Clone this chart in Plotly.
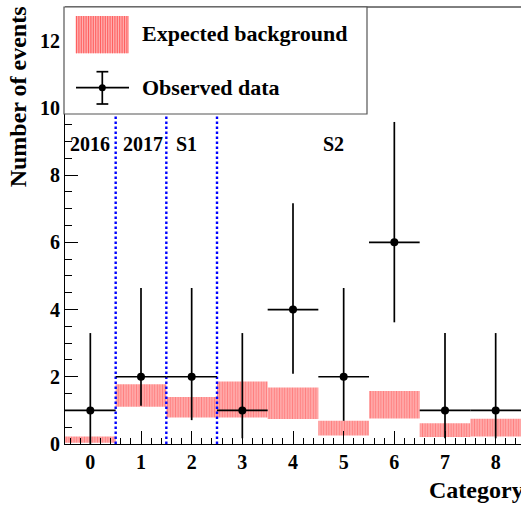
import plotly.graph_objects as go

# ---- data ----
categories = [0, 1, 2, 3, 4, 5, 6, 7, 8]
bkg_low = [0.04, 1.11, 0.79, 0.79, 0.74, 0.25, 0.76, 0.21, 0.22]
bkg_high = [0.22, 1.78, 1.40, 1.86, 1.68, 0.69, 1.58, 0.62, 0.75]
observed = [1, 2, 2, 1, 4, 2, 6, 1, 1]
err_up = [2.30, 2.64, 2.64, 2.30, 3.16, 2.64, 3.58, 2.30, 2.30]
err_down = [1.00, 0.86, 1.29, 0.83, 1.91, 1.31, 2.38, 0.83, 0.83]
boundaries = [0.5, 1.5, 2.5]
region_labels = ["2016", "2017", "S1", "S2"]
y_tick_vals = [0, 2, 4, 6, 8, 10, 12]
x_tick_vals = categories

FONT = "Liberation Serif"

fig = go.Figure()

# expected background bands
fig.add_trace(go.Bar(
    x=categories,
    base=bkg_low,
    y=[h - l for h, l in zip(bkg_high, bkg_low)],
    width=1.0,
    marker=dict(
        color="#ffb0b0",
        line=dict(width=0),
        pattern=dict(shape="|", fgcolor="#ff5050", bgcolor="#ffb0b0",
                     size=2.6, solidity=0.45, fillmode="overlay"),
    ),
    showlegend=False,
    hoverinfo="skip",
))

# region boundaries
for b in boundaries:
    fig.add_trace(go.Scatter(
        x=[b, b], y=[0, 13], mode="lines",
        line=dict(color="#0000ff", width=2.4, dash="2.5px,2.5px"),
        showlegend=False, hoverinfo="skip",
    ))

# observed data
fig.add_trace(go.Scatter(
    x=categories, y=observed, mode="markers",
    marker=dict(color="black", size=8),
    error_y=dict(type="data", symmetric=False, array=err_up, arrayminus=err_down,
                 color="black", thickness=1.7, width=0),
    error_x=dict(type="constant", value=0.5, color="black", thickness=1.7, width=0),
    showlegend=False,
))

annotations = []
# region labels
label_pos = [0.0, 1.03, 1.9, 4.8]
for txt, xp in zip(region_labels, label_pos):
    annotations.append(dict(x=xp, y=8.91, xref="x", yref="y", text=txt, showarrow=False,
                            font=dict(family=FONT, size=20, color="black", weight="bold"),
                            xanchor="center", yanchor="middle"))

# axis titles
annotations.append(dict(x=-0.103, y=1.005, xref="paper", yref="paper", text="Number of events",
                        showarrow=False, textangle=-90, xanchor="center", yanchor="top",
                        font=dict(family=FONT, size=24, color="black", weight="bold")))
annotations.append(dict(x=1.012, y=-0.105, xref="paper", yref="paper", text="Category",
                        showarrow=False, xanchor="right", yanchor="middle",
                        font=dict(family=FONT, size=24, color="black", weight="bold")))

# ---- manual legend ----
W, H = 456.0, 437.0
def px(xp):
    return (xp - 65.0) / W
def py(yp):
    return (444.0 - yp) / H

shapes = []
# top frame line
shapes.append(dict(type="line", xref="paper", yref="paper", x0=0, x1=1.02, y0=1, y1=1,
                   line=dict(color="black", width=1), layer="above"))
# legend box
shapes.append(dict(type="rect", xref="paper", yref="paper",
                   x0=px(64), x1=px(367), y0=py(114), y1=py(7),
                   fillcolor="white", line=dict(color="#555555", width=1.2), layer="above"))
# background swatch (stripes)
shapes.append(dict(type="rect", xref="paper", yref="paper",
                   x0=px(75.7), x1=px(129), y0=py(53.3), y1=py(16),
                   fillcolor="#ffb0b0", line=dict(width=0), layer="above"))
xs = 76.5
while xs < 129:
    shapes.append(dict(type="line", xref="paper", yref="paper", x0=px(xs), x1=px(xs),
                       y0=py(53.3), y1=py(16), line=dict(color="#ff6060", width=1.1), layer="above"))
    xs += 2.4
# data symbol
shapes.append(dict(type="line", xref="paper", yref="paper", x0=px(76), x1=px(129),
                   y0=py(87.7), y1=py(87.7), line=dict(color="black", width=1.7), layer="above"))
shapes.append(dict(type="line", xref="paper", yref="paper", x0=px(102.3), x1=px(102.3),
                   y0=py(104), y1=py(71.7), line=dict(color="black", width=1.7), layer="above"))
for yc in (71.7, 104):
    shapes.append(dict(type="line", xref="paper", yref="paper", x0=px(96.5), x1=px(108.3),
                       y0=py(yc), y1=py(yc), line=dict(color="black", width=1.7), layer="above"))
shapes.append(dict(type="circle", xref="paper", yref="paper",
                   x0=px(98.8), x1=px(105.8), y0=py(91.2), y1=py(84.2),
                   fillcolor="black", line=dict(color="black", width=0), layer="above"))

annotations.append(dict(x=px(140), y=py(33), xref="paper", yref="paper", text="Expected background",
                        showarrow=False, xanchor="left", yanchor="middle",
                        font=dict(family=FONT, size=22, color="black", weight="bold")))
annotations.append(dict(x=px(140), y=py(88), xref="paper", yref="paper", text="Observed data",
                        showarrow=False, xanchor="left", yanchor="middle",
                        font=dict(family=FONT, size=22, color="black", weight="bold")))

fig.update_layout(
    width=521, height=506,
    margin=dict(l=65, r=0, t=7, b=62),
    paper_bgcolor="white", plot_bgcolor="white",
    barmode="overlay",
    showlegend=False,
    shapes=shapes,
    annotations=annotations,
    font=dict(family=FONT, color="black"),
)
fig.update_xaxes(
    range=[-0.5, 8.5], tickvals=x_tick_vals, ticks="inside", ticklen=13, tickwidth=1,
    tickcolor="black", showline=True, linecolor="black", linewidth=1, mirror=False,
    showgrid=False, zeroline=False,
    tickfont=dict(family=FONT, size=20, color="black", weight="bold"),
    minor=dict(dtick=0.2, tick0=0, ticks="inside", ticklen=6.5, tickcolor="black", tickwidth=1, showgrid=False),
)
fig.update_yaxes(
    range=[0, 13], tickvals=y_tick_vals, ticks="inside", ticklen=13, tickwidth=1,
    tickcolor="black", showline=True, linecolor="black", linewidth=1, mirror=False,
    showgrid=False, zeroline=False,
    tickfont=dict(family=FONT, size=20, color="black", weight="bold"),
    minor=dict(dtick=0.5, tick0=0, ticks="inside", ticklen=6.5, tickcolor="black", tickwidth=1, showgrid=False),
)

fig.write_html(
    "out.html",
    config={"displayModeBar": False},
    post_script="document.body.style.margin='0';document.body.style.overflow='hidden';",
)
